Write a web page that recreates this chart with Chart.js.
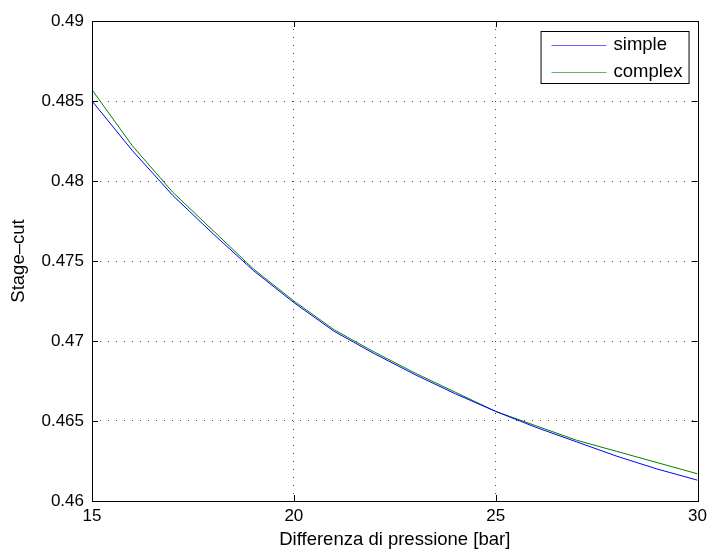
<!DOCTYPE html>
<html>
<head>
<meta charset="utf-8">
<script src="https://cdn.jsdelivr.net/npm/chart.js@4/dist/chart.umd.min.js"></script>
<style>
  html, body { margin: 0; padding: 0; background: #ffffff; }
  canvas { display: block; }
</style>
</head>
<body>
<canvas id="stageCutChart" width="712" height="551"></canvas>
<script>
// differenza di pressione [bar] e stage-cut dei due modelli
const pressione = [15, 16, 17, 18, 19, 20, 21, 22, 23, 24, 25, 26, 27, 28, 29, 30];
const stageCutSimple = [0.4850, 0.4819, 0.4791, 0.4767, 0.4744, 0.4724, 0.4706, 0.4692,
                        0.4679, 0.4667, 0.4656, 0.4646, 0.4637, 0.4628, 0.4620, 0.4613];
const stageCutComplex = [0.4857, 0.4822, 0.4793, 0.4769, 0.4745, 0.4725, 0.4707, 0.4693,
                         0.4680, 0.4668, 0.4656, 0.4647, 0.4638, 0.4631, 0.4624, 0.4617];

const xTicks = [15, 20, 25, 30];
const yTicks = [0.46, 0.465, 0.47, 0.475, 0.48, 0.485, 0.49];
const yTickLabels = ['0.46', '0.465', '0.47', '0.475', '0.48', '0.485', '0.49'];

const FONT = "'Liberation Sans', Arial, Helvetica, sans-serif";

const toPoints = (ys) => pressione.map((x, i) => ({ x: x, y: ys[i] }));

// griglia punteggiata solo sulle linee interne, il bordo lo disegna il plugin
const innerGrid = (ticks) => (ctx) => {
    const v = ctx.tick ? ctx.tick.value : null;
    if (v === null) return 'rgba(0,0,0,0)';
    return (v === ticks[0] || v === ticks[ticks.length - 1]) ? 'rgba(0,0,0,0)' : '#4a4a4a';
};

// riquadro degli assi, tacche verso l'interno e legenda in alto a destra
const axesBox = {
    id: 'axesBox',
    afterDraw(chart) {
        const { ctx, chartArea: a, scales } = chart;
        ctx.save();
        ctx.strokeStyle = '#000000';
        ctx.lineWidth = 1;

        const tick = 6;
        ctx.beginPath();
        xTicks.forEach(v => {
            const px = Math.round(scales.x.getPixelForValue(v)) + 0.5;
            ctx.moveTo(px, a.bottom); ctx.lineTo(px, a.bottom - tick);
            ctx.moveTo(px, a.top); ctx.lineTo(px, a.top + tick);
        });
        yTicks.forEach(v => {
            const py = Math.round(scales.y.getPixelForValue(v)) + 0.5;
            ctx.moveTo(a.left, py); ctx.lineTo(a.left + tick, py);
            ctx.moveTo(a.right, py); ctx.lineTo(a.right - tick, py);
        });
        ctx.stroke();

        ctx.strokeRect(Math.round(a.left) + 0.5, Math.round(a.top) + 0.5,
                       Math.round(a.right - a.left), Math.round(a.bottom - a.top));

        // legenda
        const lx = a.right - 157, ly = a.top + 10, lw = 148, lh = 52;
        ctx.fillStyle = '#ffffff';
        ctx.fillRect(lx, ly, lw, lh);
        ctx.strokeStyle = '#000000';
        ctx.strokeRect(lx + 0.5, ly + 0.5, lw, lh);
        ctx.font = '18.5px ' + FONT;
        ctx.textBaseline = 'middle';
        chart.data.datasets.forEach((ds, i) => {
            const rowY = ly + 14 + i * 26.5;
            ctx.save();
            ctx.globalAlpha = 0.6;
            ctx.strokeStyle = ds.borderColor;
            ctx.beginPath();
            ctx.moveTo(lx + 11, Math.round(rowY) + 0.5);
            ctx.lineTo(lx + 66, Math.round(rowY) + 0.5);
            ctx.stroke();
            ctx.restore();
            ctx.fillStyle = '#000000';
            ctx.fillText(ds.label, lx + 73, rowY);
        });
        ctx.restore();
    }
};

new Chart(document.getElementById('stageCutChart'), {
    type: 'line',
    data: {
        datasets: [
            {
                label: 'simple',
                data: toPoints(stageCutSimple),
                borderColor: '#0000ff',
                borderWidth: 1,
                pointRadius: 0,
                tension: 0,
                fill: false
            },
            {
                label: 'complex',
                data: toPoints(stageCutComplex),
                borderColor: '#008000',
                borderWidth: 1,
                pointRadius: 0,
                tension: 0,
                fill: false
            }
        ]
    },
    options: {
        responsive: false,
        animation: false,
        layout: { padding: { top: 21, right: 11, left: 0, bottom: 0 } },
        plugins: {
            legend: { display: false },
            tooltip: { enabled: false }
        },
        scales: {
            x: {
                type: 'linear',
                min: 15,
                max: 30,
                afterBuildTicks: (scale) => { scale.ticks = xTicks.map(v => ({ value: v })); },
                afterFit: (scale) => { scale.height = 50; },
                border: { display: false, dash: [1, 7] },
                grid: {
                    color: innerGrid(xTicks),
                    lineWidth: 1,
                    drawTicks: false
                },
                ticks: {
                    padding: 5,
                    color: '#000000',
                    font: { family: FONT, size: 17 },
                    maxRotation: 0
                },
                title: {
                    display: true,
                    text: 'Differenza di pressione [bar]',
                    color: '#000000',
                    font: { family: FONT, size: 18.5 },
                    padding: { top: 0, bottom: 0 }
                }
            },
            y: {
                type: 'linear',
                min: 0.46,
                max: 0.49,
                afterBuildTicks: (scale) => { scale.ticks = yTicks.map(v => ({ value: v })); },
                afterFit: (scale) => { scale.width = 92; },
                border: { display: false, dash: [1, 7] },
                grid: {
                    color: innerGrid(yTicks),
                    lineWidth: 1,
                    drawTicks: false
                },
                ticks: {
                    padding: 8,
                    color: '#000000',
                    font: { family: FONT, size: 17 },
                    callback: (value) => {
                        const i = yTicks.findIndex(t => Math.abs(t - value) < 1e-9);
                        return i >= 0 ? yTickLabels[i] : '';
                    }
                },
                title: {
                    display: true,
                    text: 'Stage–cut',
                    color: '#000000',
                    font: { family: FONT, size: 18.5 },
                    padding: { top: 8, bottom: 0 }
                }
            }
        }
    },
    plugins: [axesBox]
});
</script>
</body>
</html>
